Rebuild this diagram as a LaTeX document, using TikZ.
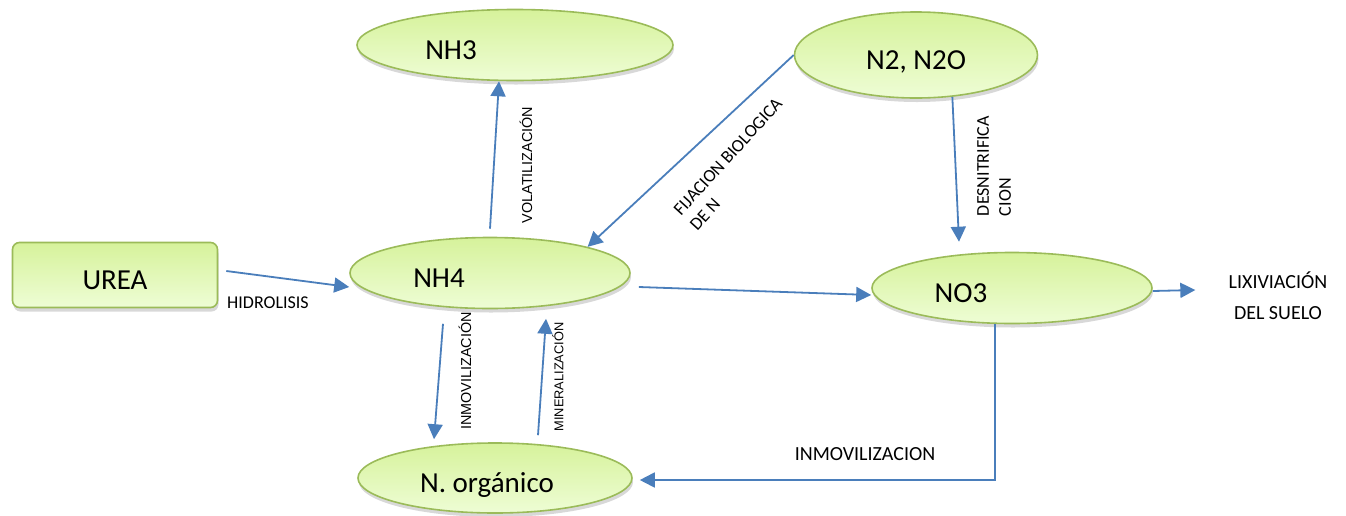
\documentclass[tikz,border=0pt]{standalone}
\usepackage{fontspec}
\setmainfont{Carlito}
\newfontfamily\arialfont{Liberation Sans}
\usetikzlibrary{arrows.meta,shapes.geometric,shadows}
\definecolor{leaf}{HTML}{9BBB59}
\definecolor{limetop}{HTML}{D6F29B}
\definecolor{limebot}{HTML}{EEFDD5}
\definecolor{flowblue}{HTML}{4A7EBB}

\begin{document}
\begin{tikzpicture}[x=0.5pt,y=-0.5pt,
    >={Triangle[length=7.5pt,width=7.5pt]},
    bubble/.style={ellipse,draw=leaf,line width=0.8pt,top color=limetop,bottom color=limebot,
      drop shadow={shadow xshift=0.5pt,shadow yshift=-2pt,fill=black!30,opacity=0.5},
      font=\fontsize{14.5}{16}\selectfont,text height=14pt,text depth=0pt,inner sep=0pt},
    flow/.style={->,draw=flowblue,line width=0.9pt},
    tag/.style={font=\fontsize{9}{11}\selectfont,inner sep=0pt},
    rtag/.style={font=\arialfont\fontsize{7.2}{9}\selectfont,rotate=90,inner sep=0pt}]
    \useasboundingbox(0,0)rectangle(1346,515);
    \node[bubble,rectangle,rounded corners=3.5pt,minimum width=102.5pt,minimum height=32.5pt](urea)at(115,275){UREA};
    \node[bubble,minimum width=158pt,minimum height=35.5pt](nh3)at(515,45){NH3\hspace*{64pt}};
    \node[bubble,minimum width=140pt,minimum height=35.5pt](nh4)at(490,273){NH4\hspace*{51pt}};
    \node[bubble,minimum width=121.5pt,minimum height=43pt](n2)at(916,55){N2, N2O};
    \node[bubble,minimum width=140pt,minimum height=35.5pt](no3)at(1012,288){NO3\hspace*{51pt}};
    \node[bubble,minimum width=137pt,minimum height=35pt](norg)at(495,478){N. orgánico\hspace*{8pt}};
    \node[align=center,inner sep=0pt,font=\fontsize{10}{15.5}\selectfont](lix)at(1278,295.5){LIXIVIACIÓN\\DEL SUELO};
    \draw[flow]([shift={(4pt,2pt)}]urea.east)--([yshift=-7pt]nh4.west);
    \draw[flow]([yshift=4pt]nh4.north)--([xshift=-8pt]nh3.south);
    \draw[flow](n2.west)--(nh4.15);
    \draw[flow](n2.-49)--([shift={(-26.5pt,5pt)}]no3.north);
    \draw[flow]([shift={(4pt,-7pt)}]nh4.east)--([yshift=-3.5pt]no3.west);
    \draw[flow]([yshift=-1.5pt]no3.east)--([shift={(-16.5pt,2.75pt)}]lix.west);
    \draw[flow]([shift={(-23.5pt,-7.25pt)}]nh4.south)--([shift={(-30.5pt,1.5pt)}]norg.north);
    \draw[flow]([shift={(21.5pt,3.5pt)}]norg.north)--([shift={(28pt,-4.75pt)}]nh4.south);
    \draw[flow]([xshift=-8.5pt]no3.south)|-([shift={(3.5pt,-1pt)}]norg.east);
    \node[tag](hidro)at(268,303){HIDROLISIS};
    \node[rtag](volat)at(526,165){VOLATILIZACIÓN};
    \node[rtag](inmov)at(465,371){INMOVILIZACIÓN};
    \node[rtag,font=\arialfont\fontsize{6.4}{8}\selectfont](miner)at(558,377){MINERALIZACIÓN};
    \node[tag,rotate=47.6,align=left](fija)at(736,164){FIJACION BIOLOGICA\\DE N};
    \node[tag,rotate=90,align=left](desni)at(994,166){DESNITRIFICA\\CION};
    \node[tag,font=\fontsize{10}{12}\selectfont](inmovb)at(865,454){INMOVILIZACION};
  \end{tikzpicture}
\end{document}
